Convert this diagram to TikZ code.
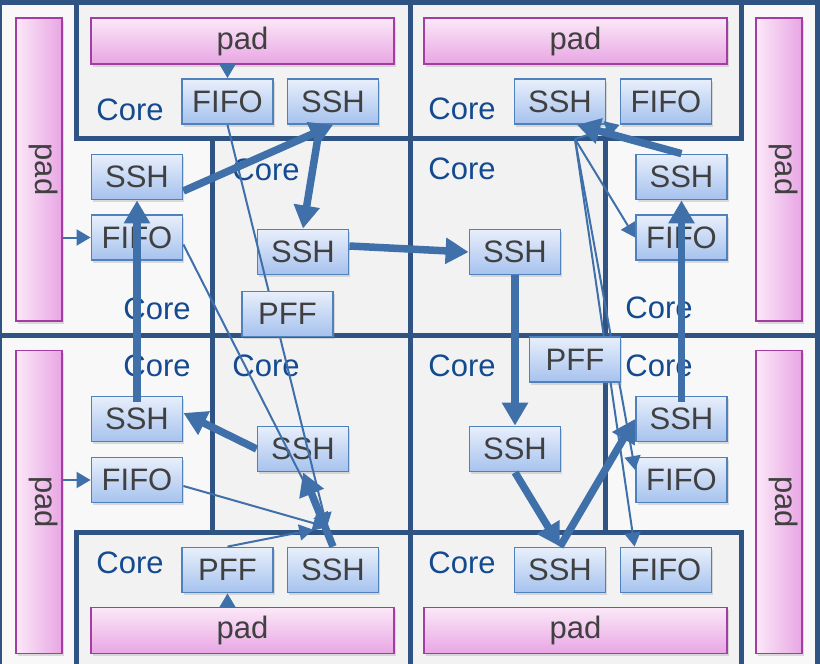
\documentclass[tikz,border=0pt]{standalone}
\usepackage{fontspec}
\usepackage{graphicx}
\setmainfont{Liberation Sans}
\usetikzlibrary{arrows.meta,shadows}

\definecolor{frame}{HTML}{2F5382}
\definecolor{coreFill}{HTML}{F2F2F2}
\definecolor{sideFill}{HTML}{F8F8F8}
\definecolor{boxLine}{HTML}{4F81BD}
\definecolor{boxTop}{HTML}{E8EFFB}
\definecolor{boxBot}{HTML}{A6C2EE}
\definecolor{padLine}{HTML}{A43CA4}
\definecolor{padLight}{HTML}{FBE8F8}
\definecolor{padDark}{HTML}{E8A6E4}
\definecolor{link}{HTML}{4070AA}
\definecolor{corecol}{HTML}{144A8F}
\definecolor{txt}{HTML}{404040}

\tikzset{
  big/.style={font=\fontsize{31}{36}\selectfont},
  softshadow/.style={drop shadow={shadow xshift=1.5pt, shadow yshift=-2.5pt, opacity=0.25}},
  unit/.style={big, draw=boxLine, line width=1.8pt, top color=boxTop, bottom color=boxBot,
    minimum width=91pt, minimum height=45pt, inner sep=0pt, text=txt, softshadow},
  hpad/.style={big, draw=padLine, line width=1.8pt, top color=padLight, bottom color=padDark,
    minimum width=303pt, minimum height=46pt, inner sep=0pt, text=txt, softshadow},
  vpad/.style={big, draw=padLine, line width=1.8pt, left color=padLight, right color=padDark,
    minimum width=46pt, minimum height=303pt, inner sep=0pt, text=txt, softshadow},
  corelbl/.style={big, text=corecol, inner sep=0pt},
  wire/.style={draw=link, line width=2pt, -{Triangle[width=16pt,length=14pt]}},
  bus/.style={draw=link, line width=7.5pt, -{Triangle[width=25pt,length=23pt]}},
  wall/.style={draw=frame, line width=5pt}
}
\newcommand{\sidepad}{\hspace*{10pt}\rotatebox{-90}{pad}}

\begin{document}
\begin{tikzpicture}[x=1pt, y=-1pt]
\useasboundingbox (0,0) rectangle (820,664);

% floor plan: side regions and core tiles
\fill[sideFill] (0,0) rectangle (820,664);
\fill[coreFill] (76,0) rectangle (741,138);
\fill[coreFill] (212,138) rectangle (605,532);
\fill[coreFill] (76,532) rectangle (741,664);

% tile walls
\draw[wall] (-1,680) -- (-1,2.5) -- (817.5,2.5) -- (817.5,680);
\draw[wall] (410,0) -- (410,664);
\draw[wall] (0,335.5) -- (820,335.5);
\draw[wall] (76,0) -- (76,138) -- (741,138) -- (741,0);
\draw[wall] (76,664) -- (76,532) -- (741,532) -- (741,664);
\draw[wall] (212,138) -- (212,532);
\draw[wall] (605,138) -- (605,532);

% core labels
\node[corelbl] (c1)  at (130,110) {Core};
\node[corelbl] (c2)  at (157,309) {Core};
\node[corelbl] (c3)  at (266,170) {Core};
\node[corelbl] (c4)  at (462,109) {Core};
\node[corelbl] (c5)  at (462,169) {Core};
\node[corelbl] (c6)  at (659,308) {Core};
\node[corelbl] (c7)  at (157,366) {Core};
\node[corelbl] (c8)  at (266,366) {Core};
\node[corelbl] (c9)  at (130,563) {Core};
\node[corelbl] (c10) at (462,366) {Core};
\node[corelbl] (c11) at (659,366) {Core};
\node[corelbl] (c12) at (462,563) {Core};

% pads
\node[hpad] (tpadL) at (242.5,41) {pad};
\node[hpad] (tpadR) at (575.5,41) {pad};
\node[hpad] (bpadL) at (242.5,630.5) {pad};
\node[hpad] (bpadR) at (575.5,630.5) {pad};
\node[vpad] (lpadT) at (39,169.5) {\sidepad};
\node[vpad] (rpadT) at (779,169.5) {\sidepad};
\node[vpad] (lpadB) at (39,502) {\sidepad};
\node[vpad] (rpadB) at (779,502) {\sidepad};

% routers and buffers
\node[unit] (tFIFO)  at (227.5,101.5) {FIFO};
\node[unit] (tSSH)   at (333,101.5) {SSH};
\node[unit] (lSSH)   at (137,177) {SSH};
\node[unit] (lFIFO)  at (137,237.5) {FIFO};
\node[unit] (mSSHa)  at (303,252) {SSH};
\node[unit] (trSSH)  at (560,101.5) {SSH};
\node[unit] (trFIFO) at (666,101.5) {FIFO};
\node[unit] (rSSH)   at (681.5,177) {SSH};
\node[unit] (rFIFO)  at (681.5,237.5) {FIFO};
\node[unit] (mSSHb)  at (515,252) {SSH};
\node[unit] (blSSH)  at (137,419) {SSH};
\node[unit] (blFIFO) at (137,480) {FIFO};
\node[unit] (mSSHc)  at (303,449) {SSH};
\node[unit] (bSSH)   at (333,570) {SSH};
\node[unit] (mSSHd)  at (515,449) {SSH};
\node[unit] (rlSSH)  at (681.5,419) {SSH};
\node[unit] (rlFIFO) at (681.5,480) {FIFO};
\node[unit] (brSSH)  at (560,570) {SSH};
\node[unit] (brFIFO) at (666,570) {FIFO};

% fan-in and fan-out points
\coordinate (hubL) at (327,527);
\coordinate (hubR) at (575,139);

% pad inputs
\draw[wire] (tFIFO.north |- tpadL.south) -- (tFIFO.north);
\draw[wire] (lpadT.east |- lFIFO.west) -- (lFIFO.west);
\draw[wire] (lpadB.east |- blFIFO.west) -- (blFIFO.west);

% buffer links
\draw[wire] (tFIFO.south) -- (hubL);
\draw[wire] ([yshift=-7pt]lFIFO.east) -- (hubL);
\draw[wire] ([yshift=-6pt]blFIFO.east) -- (hubL);
\draw[wire] (hubR) -- (trFIFO.south west);
\draw[wire] (hubR) -- (rFIFO.west);
\draw[wire] (hubR) -- ([yshift=10pt]rlFIFO.west);
\draw[wire] (hubR) -- ([xshift=15pt]brFIFO.north west);

% prefetch units sit above the buffer links
\node[unit] (lPFF)   at (287.5,314) {PFF};
\node[unit] (rPFF)   at (575,359.5) {PFF};
\node[unit] (bPFF)   at (227.5,570) {PFF};
\draw[wire] (bPFF.south |- bpadL.north) -- (bPFF.south);
\draw[wire, shorten >=14pt] (bPFF.north) -- (hubL);

% router ring
\draw[bus] (bSSH.north) -- (mSSHc.south);
\draw[bus] (mSSHc.west) -- ([yshift=6pt]blSSH.east);
\draw[bus] ([yshift=-6pt]blSSH.north) -- (lSSH.south);
\draw[bus] ([yshift=-14pt]lSSH.east) -- (tSSH.south);
\draw[bus] ([xshift=-13pt]tSSH.south) -- (mSSHa.north);
\draw[bus] ([yshift=6pt]mSSHa.east) -- (mSSHb.west);
\draw[bus] (mSSHb.south) -- (mSSHd.north);
\draw[bus] (mSSHd.south) -- (brSSH.north);
\draw[bus] (brSSH.north) -- (rlSSH.west);
\draw[bus] ([yshift=-6pt]rlSSH.north) -- (rSSH.south);
\draw[bus] (rSSH.north) -- ([xshift=17pt]trSSH.south);
\end{tikzpicture}
\end{document}
